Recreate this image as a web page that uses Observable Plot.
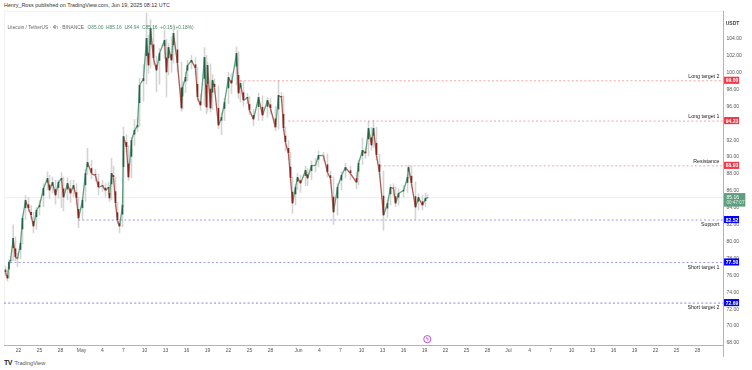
<!DOCTYPE html>
<html><head><meta charset="utf-8">
<script src="https://cdn.jsdelivr.net/npm/d3@7"></script>
<script src="https://cdn.jsdelivr.net/npm/@observablehq/plot@0.6"></script>
<style>
html,body{margin:0;padding:0;background:#fff;width:752px;height:370px;overflow:hidden;font-family:"Liberation Sans",Arial,sans-serif}
#head{height:10px;line-height:11px;font-size:5.4px;color:#333;padding-left:4px;white-space:nowrap}
#chart{height:346px}
#chart svg{display:block;filter:blur(.3px)}
#foot{height:14px;line-height:14px;font-size:5.6px;color:#555;padding-left:4px;white-space:nowrap}
#foot b{color:#222;font-size:7px;letter-spacing:-.5px;margin-right:1px}
</style></head><body>
<div id="head">Henry_Ross published on TradingView.com, Jun 19, 2025 08:12 UTC</div>
<div id="chart"></div>
<div id="foot"><b>TV</b> TradingView</div>
<script>
const days=[-1.86,-1.57,-1.36,-1.14,-0.76,-0.43,-0.14,0.29,0.57,1,1.43,1.81,2.14,2.57,3,3.57,4.14,4.43,4.86,5.29,5.71,6.14,6.43,7,7.43,7.86,8.29,8.57,9.14,9.57,9.86,10.43,11,11.43,12,12.43,12.86,13,13.29,13.57,13.86,14.14,14.43,14.86,15,15.43,15.71,16.14,16.57,17,17.29,17.86,18.29,18.57,18.86,19.29,19.71,20.14,20.86,21.14,21.43,21.86,22.14,22.71,23.29,23.43,23.86,24.14,24.71,25.29,25.57,26,26.57,26.86,27,27.43,27.71,28,28.57,29,29.43,30,30.43,31.14,31.43,31.71,32.14,32.71,33,33.57,34.29,34.86,35.57,36,36.71,37.14,37.57,37.86,38.14,38.57,38.86,39.14,39.57,39.86,40.29,41,41.29,41.86,42.43,42.86,43.57,44.14,44.57,45,45.57,46.14,46.71,47.43,48.29,48.57,49.14,49.57,50,50.43,50.71,51.14,51.57,52.14,52.71,53.14,53.57,53.86,54.29,55,55.57,55.71,56.14,56.71,57.14,57.71,58.14,58.43];
const closes=[76.31,75.6,77.49,77.73,80.33,78.08,77.96,79.74,82.7,84.83,83.88,83.05,81.75,83.65,84.24,86.25,87.43,86.01,86.96,85.42,86.96,87.43,85.18,86.84,85.66,86.6,85.07,82.7,84.83,88.02,89.33,88.02,87.79,86.37,86.6,86.01,86.37,85.07,88.02,87.55,84.47,82.46,81.75,84.24,92.4,91.1,87.55,91.93,93.11,93.7,98.44,99.27,104,100.8,105.18,101.63,100.21,102.22,103.76,99.98,102.93,101.4,104.59,101.04,95.72,98.2,99.39,100.8,101.4,100.45,97.02,96.07,101.75,95.83,100.8,95.72,99.03,98.2,93.7,94.65,96.43,99.39,98.67,102.22,97.49,98.67,96.66,97.02,95.48,94.41,97.02,94.89,96.66,95.72,93.47,97.26,97.02,93.35,91.69,90.39,87.43,84.47,86.37,87.55,86.84,88.38,87.43,88.97,88.97,90.15,90.15,88.14,87.43,83.41,86.37,87.79,88.73,88.02,86.96,89.21,90.75,90.39,93.35,91.34,93.35,90.15,88.14,83.05,84.47,86.37,86.25,84.47,85.66,86.01,87.55,88.73,86.84,84,85.18,84.24,85.07,85.16];
const highs=[77,76.5,77.8,78.2,81.9,80.5,78.6,80,83,85.4,85.2,84.2,83.4,84,84.8,86.8,88.2,87.8,87.6,87.2,87.2,88.1,87.6,87.5,87.2,87.2,86.8,85.2,85.2,88.5,91,89.6,88.5,87.9,87.2,86.8,87,86.6,89.8,88.9,87.6,84.6,82.6,84.5,93.5,92.6,91.3,92.3,94.4,94.6,99.3,100.9,107,104.4,106.2,105.5,101.9,102.8,105,103.9,103.4,104.2,105.6,105,101.2,98.9,100,101.4,102,101.7,100.6,97.4,102.9,102,101.2,101,99.7,99.2,98.4,95.2,96.9,100,99.8,103,102.4,99,98.9,97.5,97.1,95.6,97.5,97.2,97,96.9,95.9,99,97.6,97.2,93.5,91.9,90.5,87.6,86.7,88,87.8,88.9,88.6,89.5,89.8,90.7,90.5,90.3,88.3,87.6,86.8,88.2,89.2,88.9,88.2,89.6,92.2,91,94.2,93.5,94.3,93.5,90.3,88.3,84.9,86.7,86.8,86.4,86.2,86.6,88,89,88.9,87,85.6,85.4,85.7,85.5];
const lows=[75.9,75.2,75.5,77.3,77.6,77.6,76.9,77.8,79.6,82.5,83.4,82.5,80.9,81.3,83,84,86,85,85.6,84.3,85,83.9,83.5,84.8,84.5,85.2,84.2,81.5,82.5,84.6,87.8,87.3,87,85.4,85.8,85.2,85.4,84.6,84.8,87.1,84,82,80.9,81.6,84,90.5,87.1,87.4,91.2,92.9,93.5,96.5,98.5,99.8,100.4,100.8,97.6,98.5,101.5,97,99.6,99.9,101,100,95.3,95.5,97.5,98.9,100.3,99.6,96.5,95.4,96,95,95.3,95.2,95.5,97.5,93.2,92.5,94.2,96.2,97.4,98.4,96.8,96.4,95.9,96.2,94.9,93.6,94.2,94.2,94.6,95,93,93.2,96.4,93,90.6,89.6,86.9,83.2,84.2,86,85.7,86.5,86.5,87.2,88.1,88.7,89.4,87.5,86.7,81.9,83,86,87.4,87.2,86.1,86.6,89,89.7,90,90.7,91,89.5,87.5,81.2,82.7,84.2,85.2,84,84.2,85.1,85.7,87.3,86.2,82.5,83.6,83.6,84,84.94];
const levelPrices=[99,94.23,88.93,82.52,77.5,72.69];
const levelTags=["99.00","94.23","88.93","82.52","77.50","72.69"];
const levelNames=["Long target 2","Long target 1","Resistance","Support","Short target 1","Short target 2"];
const levelStart=[31.7,38.6,51.7,8.6,-1.1,-2];
const levelColors=["#f06a78","#f06a78","#f06a78","#5a5af5","#5a5af5","#3a3ae0"];
const tagColors=["#f23645","#f23645","#f23645","#0000ff","#0000ff","#0000ff"];
const labelOffset=[-4.5,-4.5,-4.5,4.5,4.5,4.5];
const priceTicks=[68,70,72,74,76,78,80,82,84,86,88,90,92,96,98,100,102,104];
const dayTicks=[0,3,6,9,12,15,18,21,24,27,30,33,36,40,43,46,49,52,55,58,61,64,67,70,73,76,79,82,85,88,91,94,97];
const dayLabels=["22","25","28","May","4","7","10","13","16","19","22","25","28","Jun","4","7","10","13","16","19","22","25","28","Jul","4","7","10","13","16","19","22","25","28"];
const lastPrice=85.16, lastTag="85.16", timer="00:47:07";
const symbolText="Litecoin / TetherUS · 4h · BINANCE", ohlcText="O85.00  H85.16  L84.94  C85.16  +0.15 (+0.18%)";

const T=d=>new Date(Date.UTC(2025,3,22)+d*864e5);
const D0=-2,D1=100.71,P0=67.67,P1=107.2;
const candles=days.map((d,i)=>{const o=i?closes[i-1]:closes[0]+0.4,c=closes[i];return {
  t:T(d),t0:T(i?days[i-1]:d),o,c,h:highs[i],l:lows[i],m:c+(o-c)*0.45,up:c>=o};});
const levels=levelPrices.map((p,i)=>({p,tag:levelTags[i],name:levelNames[i],s:T(levelStart[i]),col:levelColors[i],tc:tagColors[i],dy:labelOffset[i]}));
const font="Liberation Sans, Arial, sans-serif";
const tagL=T(100.86),tagR=T(103),tagR2=T(103.9),endT=T(D1);
const plot=Plot.plot({
  width:752,height:346,marginLeft:4,marginRight:29,marginTop:1,marginBottom:11,
  style:{fontFamily:font,overflow:"visible",background:"transparent"},
  x:{type:"utc",domain:[T(D0),endT]},
  y:{domain:[P0,P1]},
  marks:[
    Plot.ruleX([T(D0)],{stroke:"#f1f3f1",strokeWidth:1}),
    Plot.ruleY([P1],{stroke:"#f1f3f1",strokeWidth:1}),
    Plot.ruleY([lastPrice],{stroke:"#e9efeb",strokeWidth:1}),
    Plot.ruleX(candles,{x:"t",y1:"l",y2:"h",stroke:"#d4d4d4",strokeWidth:1.6}),
    Plot.ruleY(levels,{y:"p",x1:"s",x2:()=>endT,stroke:"col",strokeWidth:0.9,strokeDasharray:"2 2.2",strokeOpacity:0.7}),
    Plot.link(candles,{x1:"t0",x2:"t",y1:"o",y2:"c",stroke:d=>d.up?"#5d9e7f":"#ab5a52",strokeWidth:1.3}),
    Plot.ruleX(candles,{x:"t",y1:"c",y2:"m",stroke:d=>d.up?"#236345":"#84261e",strokeWidth:1.6}),
    Plot.ruleY([P0],{stroke:"#b4b4b4",strokeWidth:1}),
    Plot.ruleX([endT],{y1:P0-1.4,y2:P1,stroke:"#b4b4b4",strokeWidth:1}),
    Plot.axisX({ticks:dayTicks.map(T),tickFormat:d=>dayLabels[dayTicks.indexOf(Math.round((d-T(0))/864e5))],tickSize:0,tickPadding:3,fontSize:5,color:"#555",label:null}),
    Plot.axisY({anchor:"right",ticks:priceTicks,tickFormat:d=>d.toFixed(2),tickSize:0,tickPadding:3,fontSize:5,color:"#555",label:null}),
    Plot.text(levels,{x:endT,y:"p",text:"name",textAnchor:"end",dx:-4,fontSize:5.3,fill:"#222",filter:d=>d.dy<0,dy:-4.5}),
    Plot.text(levels,{x:endT,y:"p",text:"name",textAnchor:"end",dx:-4,fontSize:5.3,fill:"#222",filter:d=>d.dy>0,dy:4.5}),
    Plot.rect(levels,{x1:tagL,x2:tagR,y1:d=>d.p-0.42,y2:d=>d.p+0.42,fill:"tc"}),
    Plot.text(levels,{x:T(101.93),y:"p",text:"tag",fill:"#fff",fontSize:5,fontWeight:600}),
    Plot.rect([lastPrice],{x1:tagL,x2:tagR2,y1:84.05,y2:85.65,fill:"#5f9e7e"}),
    Plot.text([lastTag],{x:tagL,y:85.16,text:d=>d,dx:2,textAnchor:"start",fill:"#fff",fontSize:5}),
    Plot.text([timer],{x:tagL,y:84.55,text:d=>d,dx:2,textAnchor:"start",fill:"#dff0e6",fontSize:4.6}),
    Plot.text(["USDT"],{x:T(102),y:105.8,text:d=>d,fontSize:5,fontWeight:600,fill:"#444"}),
    Plot.text([symbolText],{x:T(-1.57),y:105.3,text:d=>d,textAnchor:"start",fontSize:4.85,fill:"#666"}),
    Plot.text([ohlcText],{x:T(9.86),y:105.3,text:d=>d,textAnchor:"start",fontSize:4.85,fill:"#4f8a6c"}),
    Plot.dot([58.4],{x:d=>T(d),y:68.42,r:3.6,stroke:"#b84fd0",fill:"#fff",strokeWidth:1}),
    Plot.text(["ϟ"],{x:T(58.4),y:68.42,text:d=>d,fontSize:5,fill:"#a040b0"})
  ]
});
document.getElementById("chart").append(plot);
</script>
</body></html>
